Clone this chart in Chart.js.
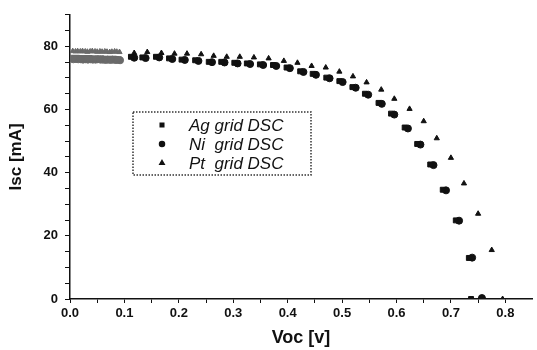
<!DOCTYPE html>
<html>
<head>
<meta charset="utf-8">
<script src="https://cdn.jsdelivr.net/npm/chart.js@4.4.0/dist/chart.umd.min.js"></script>
<style>
  html, body { margin: 0; padding: 0; background: #fff; }
  #wrap { width: 537px; height: 350px; }
</style>
</head>
<body>
<div id="wrap"><canvas id="myChart" width="537" height="350"></canvas></div>
<script>
// series (Voc in V, Isc in mA)
const agVoc = [0.004, 0.009, 0.013, 0.018, 0.022, 0.027, 0.031, 0.036, 0.040, 0.045, 0.049, 0.054, 0.058, 0.063, 0.067, 0.072, 0.076, 0.081, 0.085, 0.090,
  0.112, 0.133, 0.158, 0.182, 0.205, 0.230, 0.255, 0.278, 0.302, 0.325, 0.349, 0.373, 0.398, 0.423, 0.446, 0.471, 0.495, 0.519, 0.542, 0.567, 0.590, 0.615, 0.638, 0.662, 0.685, 0.709, 0.733, 0.737];
const agIsc = [76.4, 76.3, 76.4, 76.3, 76.2, 76.3, 76.2, 76.3, 76.2, 76.1, 76.2, 76.1, 76.2, 76.1, 76.0, 76.1, 76.0, 76.1, 76.0, 75.9,
  76.7, 76.5, 76.7, 76.2, 75.8, 75.6, 75.1, 75.1, 74.8, 74.6, 74.3, 74.1, 73.3, 72.1, 71.3, 70.1, 69.0, 67.1, 65.0, 62.1, 58.7, 54.3, 49.1, 42.6, 34.6, 24.9, 13.0, 0];

const niVoc = [0.006, 0.011, 0.015, 0.020, 0.024, 0.029, 0.033, 0.038, 0.042, 0.047, 0.051, 0.056, 0.060, 0.065, 0.069, 0.074, 0.078, 0.083, 0.087, 0.092,
  0.118, 0.139, 0.164, 0.188, 0.211, 0.236, 0.261, 0.284, 0.308, 0.331, 0.355, 0.379, 0.404, 0.429, 0.452, 0.477, 0.501, 0.525, 0.548, 0.573, 0.596, 0.621, 0.644, 0.668, 0.691, 0.715, 0.739, 0.757];
const niIsc = [75.9, 76.0, 75.9, 75.9, 75.8, 75.9, 75.8, 75.9, 75.8, 75.8, 75.9, 75.8, 75.8, 75.7, 75.8, 75.7, 75.8, 75.7, 75.7, 75.6,
  76.4, 76.3, 76.5, 76.0, 75.7, 75.4, 75.0, 74.9, 74.6, 74.4, 74.1, 73.8, 73.1, 71.9, 71.0, 69.9, 68.7, 66.9, 64.7, 61.8, 58.4, 54.0, 48.9, 42.4, 34.4, 24.8, 13.1, 0.3];

const ptVoc = [0.005, 0.010, 0.014, 0.019, 0.023, 0.028, 0.032, 0.037, 0.041, 0.046, 0.050, 0.055, 0.059, 0.064, 0.068, 0.073, 0.077, 0.082, 0.086, 0.091,
  0.118, 0.142, 0.168, 0.192, 0.215, 0.241, 0.264, 0.288, 0.312, 0.338, 0.365, 0.393, 0.418, 0.444, 0.470, 0.495, 0.520, 0.545, 0.572, 0.596, 0.624, 0.650, 0.674, 0.700, 0.724, 0.750, 0.775, 0.795];
const ptIsc = [78.5, 78.4, 78.5, 78.4, 78.5, 78.4, 78.3, 78.4, 78.5, 78.4, 78.3, 78.4, 78.3, 78.4, 78.3, 78.2, 78.3, 78.4, 78.3, 78.2,
  77.9, 78.2, 77.9, 77.7, 77.7, 77.5, 77.0, 76.7, 76.7, 76.5, 76.2, 75.4, 74.8, 73.8, 73.3, 72.0, 70.5, 68.6, 66.3, 63.4, 60.2, 56.3, 50.9, 44.7, 36.6, 27.0, 15.5, 0];

const seriesLabels = ["Ag grid DSC", "Ni  grid DSC", "Pt  grid DSC"];
const xTitle = "Voc [v]";
const yTitle = "Isc [mA]";

const toPoints = (xs, ys) => xs.map((x, i) => ({ x: x, y: ys[i] }));

const ctx = document.getElementById("myChart").getContext("2d");

// band of dense points at low voltage looks grey in the original
const bandColor = (c) => (c.raw && c.raw.x < 0.1 ? "#6a6a6a" : "#111");

const makeSet = (label, xs, ys, style, r) => ({
  label: label,
  data: toPoints(xs, ys),
  showLine: false,
  pointStyle: style,
  pointRadius: r,
  pointBorderWidth: 1,
  pointBackgroundColor: bandColor,
  pointBorderColor: bandColor,
});

// legend box drawn inside the plot, like the original
const boxLegend = {
  id: "boxLegend",
  afterDraw(chart) {
    const c = chart.ctx;
    c.save();
    c.setLineDash([1.5, 1.5]);
    c.lineWidth = 1.5;
    c.strokeStyle = "#333";
    c.strokeRect(133, 112, 178, 63);
    c.setLineDash([]);
    const rows = [125, 144, 163];
    chart.data.datasets.forEach((ds, i) => {
      c.fillStyle = "#111";
      c.strokeStyle = "#111";
      Chart.helpers.drawPoint(c, { pointStyle: ds.pointStyle, radius: 2.5, rotation: 0, borderWidth: 1 }, 162, rows[i]);
      c.font = "italic 17px 'Liberation Sans', Arial, sans-serif";
      c.textBaseline = "middle";
      c.textAlign = "left";
      c.fillText(ds.label, 189, rows[i] + 1);
    });
    c.restore();
  },
};

const tickFont = { family: "'Liberation Sans', Arial, sans-serif", size: 13, weight: "bold" };

const myChart = new Chart(ctx, {
  type: "scatter",
  data: {
    datasets: [
      makeSet(seriesLabels[0], agVoc, agIsc, "rect", 3.5),
      makeSet(seriesLabels[1], niVoc, niIsc, "circle", 3.5),
      makeSet(seriesLabels[2], ptVoc, ptIsc, "triangle", 3),
    ],
  },
  options: {
    responsive: false,
    animation: false,
    layout: { padding: { top: 10, right: 0, left: 0, bottom: 0 } },
    plugins: { legend: { display: false }, tooltip: { enabled: false } },
    scales: {
      x: {
        type: "linear",
        min: 0,
        max: 0.849,
        border: { color: "#111", width: 1.5 },
        grid: { drawOnChartArea: false, drawTicks: true, tickLength: 4, color: "#111" },
        ticks: {
          stepSize: 0.05,
          includeBounds: false,
          autoSkip: false,
          maxRotation: 0,
          padding: 3,
          color: "#111",
          font: tickFont,
          callback: (v) => (Math.round(v * 100) % 10 === 0 ? v.toFixed(1) : ""),
        },
        title: {
          display: true,
          text: xTitle,
          color: "#111",
          font: { family: "'Liberation Sans', Arial, sans-serif", size: 18, weight: "bold" },
          padding: { top: 0, bottom: 1 },
        },
        afterFit: (s) => { s.height = 51; },
      },
      y: {
        type: "linear",
        min: 0,
        max: 90,
        border: { color: "#111", width: 1.5 },
        grid: { drawOnChartArea: false, drawTicks: true, tickLength: 5, color: "#111" },
        ticks: {
          stepSize: 5,
          autoSkip: false,
          padding: 7,
          color: "#111",
          font: tickFont,
          callback: (v) => (v % 20 === 0 ? String(v) : ""),
        },
        title: {
          display: true,
          text: yTitle,
          color: "#111",
          font: { family: "'Liberation Sans', Arial, sans-serif", size: 17, weight: "bold" },
          padding: { top: 6, bottom: 0 },
        },
        afterFit: (s) => { s.width = 70; },
      },
    },
  },
  plugins: [boxLegend],
});
</script>
</body>
</html>
